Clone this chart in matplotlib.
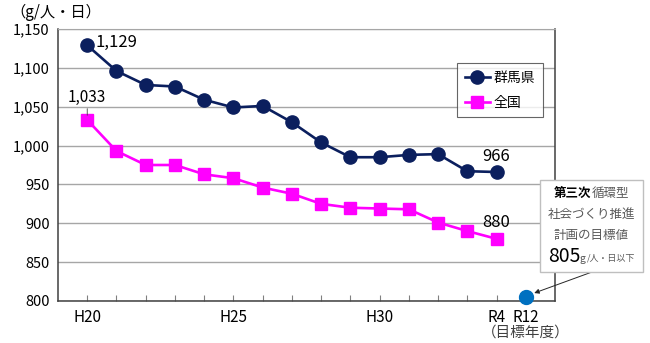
import matplotlib
matplotlib.use("Agg")
import matplotlib.pyplot as plt

plt.rcParams['font.family'] = ['Noto Sans CJK JP', 'DejaVu Sans']

# Fiscal years H20 (2008) .. R4 (2022), plus the target year R12
years = ["H20", "H21", "H22", "H23", "H24", "H25", "H26", "H27", "H28",
         "H29", "H30", "R1", "R2", "R3", "R4"]
gunma = [1129, 1096, 1078, 1076, 1059, 1049, 1051, 1030, 1004,
         985, 985, 988, 989, 967, 966]
national = [1033, 993, 975, 975, 963, 958, 946, 938, 925,
            920, 919, 918, 901, 890, 880]
target_label = "R12"
target_value = 805

shown_labels = {"H20": "H20", "H25": "H25", "H30": "H30", "R4": "R4"}
yticks = [800, 850, 900, 950, 1000, 1050, 1100, 1150]

NAVY = "#0B1F5E"
MAGENTA = "#FF00FF"
BLUE = "#0070C0"

fig = plt.figure(figsize=(6.5, 3.43), dpi=100)
ax = fig.add_axes([58 / 650, 1 - 301 / 343, (555 - 58) / 650, (301 - 29) / 343])

x = list(range(len(years)))
x_target = len(years)

ax.plot(x, gunma, color=NAVY, lw=1.9, marker="o", ms=9.5, label="群馬県", zorder=4)
ax.plot(x, national, color=MAGENTA, lw=1.9, marker="s", ms=8.5, label="全国", zorder=3)
ax.plot([x_target], [target_value], marker="o", ms=10, color=BLUE, ls="none",
        zorder=5, clip_on=False)

ax.set_xlim(-1, len(years) + 1)
ax.set_ylim(yticks[0], yticks[-1])
ax.set_yticks(yticks)
ax.set_yticklabels([f"{v:,}" for v in yticks], fontsize=10.5)
ax.yaxis.grid(True, color="#A6A6A6", lw=1)
ax.set_axisbelow(True)
ax.tick_params(axis="y", length=0, pad=6)

ticks = x + [x_target]
ax.set_xticks(ticks)
ax.set_xticklabels([shown_labels.get(y, "") for y in years] + [target_label],
                   fontsize=11)
ax.tick_params(axis="x", direction="in", length=4, color="#808080", pad=6)

for side in ["left", "bottom", "right"]:
    ax.spines[side].set_color("#404040")
    ax.spines[side].set_linewidth(1.1)
ax.spines["top"].set_color("#A6A6A6")

ax.text(x_target, 768, "（目標年度）", ha="center", va="top", fontsize=10.5,
        color="#404040", clip_on=False)

# Value labels on the first and last points
ax.text(x[0] + 0.28, gunma[0] + 4, f"{gunma[0]:,}", fontsize=12, ha="left",
        va="center")
ax.annotate(f"{national[0]:,}", xy=(x[0], national[0] + 6),
            xytext=(x[0], national[0] + 29), ha="center", va="center",
            fontsize=11,
            arrowprops=dict(arrowstyle="-", color="#404040", lw=0.6,
                            shrinkA=8, shrinkB=0))
ax.text(x[-1], gunma[-1] + 20, f"{gunma[-1]}", fontsize=12, ha="center",
        va="center")
ax.text(x[-1], national[-1] + 21, f"{national[-1]}", fontsize=12, ha="center",
        va="center")

leg = ax.legend(loc="upper left", bbox_to_anchor=((457 - 58) / 497, (301 - 63) / 272),
                fontsize=10, frameon=True, fancybox=False, edgecolor="#404040",
                handlelength=1.8, borderpad=0.55, labelspacing=0.8,
                handletextpad=0.3, borderaxespad=0)
leg.get_frame().set_linewidth(0.8)

# Target annotation box
bx0, by0, bx1, by1 = 540, 180, 643, 272
box = plt.Rectangle((bx0 / 650, 1 - by1 / 343), (bx1 - bx0) / 650, (by1 - by0) / 343,
                    transform=fig.transFigure, facecolor="white",
                    edgecolor="#BFBFBF", lw=1, zorder=6)
fig.patches.append(box)

cx = (bx0 + bx1) / 2 / 650
GRAY = "#595959"
fig.text(cx, 1 - 193 / 343, "第三次", fontsize=9, fontweight="bold",
         color="black", ha="right", va="center", zorder=7)
fig.text(cx, 1 - 193 / 343, "循環型", fontsize=9, color=GRAY,
         ha="left", va="center", zorder=7)
fig.text(cx, 1 - 215 / 343, "社会づくり推進", fontsize=9, color=GRAY,
         ha="center", va="center", zorder=7)
fig.text(cx, 1 - 236 / 343, "計画の目標値", fontsize=9, color=GRAY,
         ha="center", va="center", zorder=7)
fig.text(548 / 650, 1 - 256 / 343, f"{target_value}", fontsize=14,
         color="black", ha="left", va="center", zorder=7)
fig.text(580 / 650, 1 - 259 / 343, "g", fontsize=7.5, color=GRAY,
         ha="left", va="center", zorder=7)
fig.text(587 / 650, 1 - 258 / 343, "/人・日以下", fontsize=6.5, color=GRAY,
         ha="left", va="center", zorder=7)

ax.annotate("", xy=(x_target + 0.2, target_value + 4),
            xytext=(592 / 650, 1 - 272 / 343), textcoords="figure fraction",
            arrowprops=dict(arrowstyle="-|>", color="#262626", lw=0.7,
                            mutation_scale=7, shrinkA=0, shrinkB=2),
            annotation_clip=False, zorder=7)

fig.text(10 / 650, 1 - 12 / 343, "（g/人・日）", fontsize=11, ha="left",
         va="center")

fig.savefig("out.png", dpi=100)
